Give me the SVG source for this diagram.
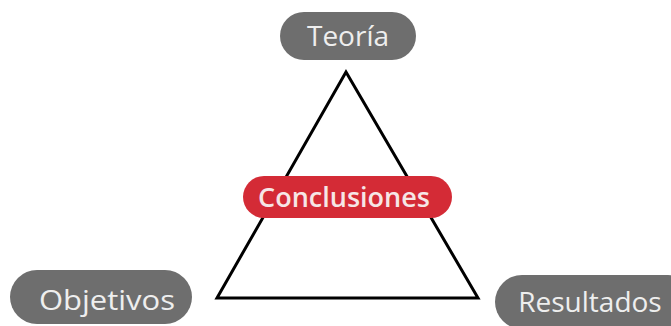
<svg xmlns="http://www.w3.org/2000/svg" width="671" height="326" viewBox="0 0 671 326">
<style>
.pill{fill:#6e6e6e}
.lbl{font-family:"Open Sans","Noto Sans",sans-serif;font-size:28px;fill:#eeeeee;text-anchor:middle;dominant-baseline:central}
.red{fill:#d42b36}
.redlbl{font-family:"Open Sans","Noto Sans",sans-serif;font-size:27px;font-weight:600;fill:#f6e6e6;text-anchor:middle;dominant-baseline:central}
.edge{fill:none;stroke:#000;stroke-width:3;stroke-linejoin:miter}
</style>
<rect width="671" height="326" fill="#ffffff"/>
<g id="connectors">
<polygon class="edge" points="346,72 478,298 217,298"/>
</g>
<g id="teoria">
<rect class="pill" x="280" y="12" width="136" height="48" rx="24"/>
<text class="lbl" x="348" y="35">Teoría</text>
</g>
<g id="conclusiones">
<rect class="red" x="243" y="176" width="209" height="42" rx="21"/>
<text class="redlbl" x="344" y="196">Conclusiones</text>
</g>
<g id="objetivos">
<rect class="pill" x="10" y="270" width="182" height="54" rx="27"/>
<text class="lbl" x="107" y="299" textLength="136" lengthAdjust="spacingAndGlyphs">Objetivos</text>
</g>
<g id="resultados">
<rect class="pill" x="495" y="275" width="200" height="54" rx="27"/>
<text class="lbl" x="590" y="301">Resultados</text>
</g>
</svg>
